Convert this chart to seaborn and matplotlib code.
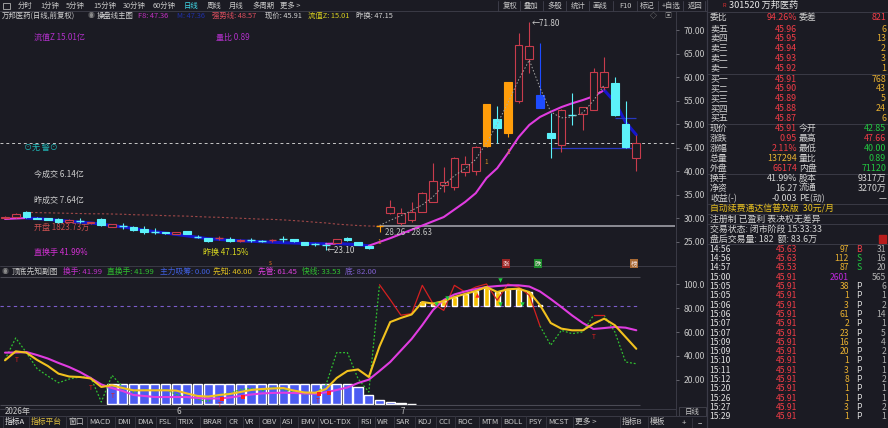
# -*- coding: utf-8 -*-

"""Redraw the 万邦医药 (301520) daily K-line screen with seaborn."""

import matplotlib

matplotlib.use('Agg')

import matplotlib.pyplot as plt
import numpy as np
import seaborn as sns
from matplotlib.patches import Rectangle

W, H = 888, 428
BG = '#1b1b23'
LINE = '#3a3a46'
TXT = '#d4d4d4'
RED = '#f03c46'
GREEN = '#22c840'
YELLOW = '#e8c020'
VOLY = '#e8b030'
PURPLE = '#c028e0'
BOOK = 6.4

# ---- main chart: daily candles, oldest first ----
opens = [30.1, 30.2, 31.3, 30.0, 30.0, 29.8, 29.1, 29.4, 28.9, 29.8,
         28.1, 28.3, 28.1, 27.7, 27.0, 27.0, 26.6, 27.2, 26.0, 25.7,
         25.65, 25.5, 25.1, 25.3, 25.1, 25.26, 25.5, 25.5, 24.9, 24.5,
         24.4, 24.7, 25.7, 24.9, 24.0, 28.26, 31.0, 28.9, 29.6, 31.3,
         33.4, 37.0, 36.6, 39.8, 40.0, 45.3, 51.1, 48.1, 54.9, 63.8,
         56.2, 48.1, 45.5, 51.9, 52.1, 53.0, 57.9, 58.7, 50.0, 42.85]
highs = [30.4, 31.0, 31.4, 30.2, 30.1, 29.9, 29.7, 29.9, 29.2, 29.9,
         28.8, 28.9, 28.2, 28.3, 27.8, 27.1, 27.1, 27.3, 26.4, 25.8,
         26.1, 25.9, 25.5, 25.7, 25.4, 25.6, 26.1, 25.6, 25.0, 24.7,
         24.6, 25.6, 26.0, 25.0, 24.1, 28.26, 33.8, 32.1, 33.4, 35.5,
         41.7, 40.9, 43.0, 43.2, 45.3, 54.3, 53.8, 58.9, 69.4, 71.8,
         67.2, 52.3, 53.1, 56.6, 53.7, 61.9, 64.3, 60.0, 54.9, 47.66]
lows = [30.0, 30.1, 30.1, 29.7, 29.5, 29.0, 29.0, 28.9, 28.8, 28.4,
        28.0, 27.6, 27.3, 26.7, 26.5, 26.7, 26.5, 26.5, 25.7, 25.0,
        25.3, 25.0, 25.0, 25.0, 24.9, 25.0, 25.0, 25.0, 24.2, 24.1,
        23.10, 24.6, 25.2, 24.2, 23.5, 27.0, 30.9, 28.6, 29.1, 31.2,
        33.3, 35.5, 35.9, 38.9, 39.1, 45.1, 46.0, 47.2, 54.5, 60.9,
        53.3, 42.8, 44.0, 49.8, 48.7, 52.9, 57.2, 51.8, 45.0, 40.00]
closes = [30.2, 30.9, 30.2, 29.8, 29.6, 29.1, 29.6, 29.36, 29.1, 28.5,
          28.7, 28.26, 27.4, 27.0, 26.96, 26.8, 27.0, 26.6, 25.96, 25.1,
          25.69, 25.1, 25.4, 25.26, 25.06, 25.3, 25.46, 25.1, 24.3, 24.46,
          24.36, 25.5, 25.3, 24.3, 23.6, 28.26, 32.3, 31.0, 31.3, 35.3,
          37.9, 37.7, 42.8, 41.5, 45.1, 54.3, 49.1, 58.9, 66.8, 66.6,
          53.4, 47.0, 53.0, 51.86, 53.6, 61.1, 61.1, 51.9, 45.1, 45.91]
ma_line = [29.8, 29.9, 30.0, 29.9, 29.7, 29.5, 29.3, 29.15, 28.95, 28.7,
           28.4, 28.1, 27.8, 27.4, 27.1, 26.8, 26.5, 26.2, 25.9, 25.6,
           25.45, 25.3, 25.15, 25.05, 24.95, 24.85, 24.75, 24.68, 24.6, 24.55,
           24.5, 24.55, 24.45, 24.3, 24.1, 24.9, 25.7, 26.6, 27.5, 28.4,
           29.3, 30.2, 31.8, 33.4, 35.3, 38.5, 40.6, 43.8, 47.2, 49.8,
           51.5, 52.6, 53.6, 54.4, 55.1, 55.9, 57.2, 54.7, 50.4, 47.7]
long_ma_start = 2
long_ma = [31.2, 31.15, 31.1, 31.05, 31.0, 30.95, 30.9, 30.9, 30.85, 30.8,
           30.7, 30.65, 30.6, 30.5, 30.45, 30.4, 30.3, 30.2, 30.15, 30.05,
           29.95, 29.85, 29.75, 29.7, 29.6, 29.45, 29.3, 29.1, 28.95, 28.7,
           28.55, 28.4, 28.3, 28.26]
zigzag_start = 35
zigzag = [28.4, 29.5, 30.5, 31.6, 32.8, 34.5, 37.0, 39.0, 40.5, 42.5,
          46.0, 50.0, 54.5, 59.4, 63.6, 57.7, 52.6, 51.3, 51.5, 52.4,
          55.0, 58.3]
support_level = 44.9
support_from = 51
resist_level = 51.3
resist_from = 57
one_marks_x = [35, 45, 47]
one_marks_y = [24.9, 41.9, 44.0]
price_ticks = [25, 30, 35, 40, 45, 50, 55, 60, 65, 70]

# ---- sub chart: 顶底先知副图 ----
xianzhi = [36.4, 43.9, 42.8, 36.7, 31.7, 25.3, 22.9, 22.5, 21.3, 14.2,
           15.6, 13.3, 11.4, 11.4, 11.4, 11.4, 11.2, 8.8, 6.7, 6.2,
           7.5, 8.3, 10.0, 11.7, 12.5, 12.9, 13.3, 11.2, 9.6, 9.4,
           12.5, 21.7, 27.5, 28.8, 22.5, 48.0, 68.3, 71.7, 74.6, 85.0,
           83.7, 85.8, 89.2, 91.7, 94.2, 97.5, 93.3, 95.6, 96.1, 93.3,
           82.5, 67.5, 62.8, 61.4, 61.4, 66.9, 71.1, 65.6, 55.8, 46.0]
xianguan = [42.8, 42.9, 43.3, 40.8, 37.9, 34.2, 30.8, 26.7, 21.7, 16.3,
            13.3, 10.8, 7.5, 6.7, 5.8, 5.8, 5.8, 5.8, 5.0, 4.6,
            4.6, 5.4, 6.7, 7.9, 8.8, 9.2, 9.4, 9.2, 8.8, 8.6,
            9.7, 11.7, 13.8, 17.5, 20.3, 27.5, 35.0, 44.6, 54.2, 65.8,
            78.3, 86.7, 91.3, 93.8, 95.8, 97.5, 98.3, 98.9, 98.9, 97.9,
            93.8, 87.5, 80.8, 73.8, 67.5, 62.5, 63.3, 64.2, 63.6, 61.45]
kuaixian = [37.0, 55.0, 42.8, 29.4, 23.3, 17.7, 20.8, 22.5, 22.5, 1.7,
            23.9, 14.2, 10.0, 12.0, 11.0, 12.0, 8.0, 6.0, 4.0, 2.0,
            8.0, 9.0, 12.0, 13.0, 11.0, 14.0, 12.0, 10.0, 8.0, 9.0,
            16.0, 42.8, 42.8, 21.0, 10.0, 99.4, 87.0, 74.0, 75.3, 98.9,
            83.6, 78.0, 98.9, 93.3, 97.5, 100.0, 86.4, 100.0, 97.5, 90.6,
            65.0, 49.0, 61.4, 58.6, 60.0, 74.0, 74.0, 60.0, 35.0, 33.53]
kuaixian_red_spans = [(35, 50), (55, 56)]
absorb_start = 10
absorb = [17.0, 17.0, 17.0, 17.0, 17.0, 17.0, 17.0, 17.0, 17.0, 17.0,
          17.0, 17.0, 17.0, 17.0, 17.0, 17.0, 17.0, 17.0, 17.0, 17.0,
          17.0, 17.0, 17.0, 14.0, 7.5, 3.3, 1.6, 0.8, 0.3]
floor_level = 82.0
top_level = 105.8
buy_sig_x = [40.3, 41.3, 46.3, 46.3, 48.3]
buy_sig_y = [83.0, 88.0, 103.0, 83.0, 83.0]
sell_sig_x = [20.3, 22.2, 29.3, 30.3]
sell_sig_y = [4.2, 5.8, 8.3, 9.2]
t_marks_x = [1.1, 8.0, 10.1, 20.1, 29.2, 55.0]
t_marks_y = [36.7, 13.3, 6.7, -0.8, 2.5, 55.8]
month_idx = [16, 37]
month_labels = ['6', '7']
sub_ticks = [20, 40, 60, 80, 100]
sub_tick_labels = ['20.00', '40.00', '60.00', '80.00', '100.0']

# ---- toolbars ----
period_tabs = ['分时', '1分钟', '5分钟', '15分钟', '30分钟', '60分钟', '日线', '周线', '月线', '多周期', '更多 >']
period_x = [18, 40, 66, 93, 123, 153, 184, 207, 229, 252, 280]
tool_btns = ['复权', '叠加', '多股', '统计', '画线', 'F10', '标记', '+自选', '返回']
tool_x = [510, 531, 555, 578, 600, 625, 647, 671, 695]
bottom_tabs = ['指标A', '指标平台', '窗口', 'MACD', 'DMI', 'DMA', 'FSL', 'TRIX', 'BRAR', 'CR',
               'VR', 'OBV', 'ASI', 'EMV', 'VOL-TDX', 'RSI', 'WR', 'SAR', 'KDJ', 'CCI',
               'ROC', 'MTM', 'BOLL', 'PSY', 'MCST', '更多 >', '指标B', '模板']
bottom_x = [5, 31, 68, 89, 117, 137, 158, 178, 202, 228, 245, 261, 282, 300, 320,
            360, 377, 396, 417, 438, 457, 481, 503, 528, 548, 575, 622, 650]

# ---- order book ----
sell_names = ['卖五', '卖四', '卖三', '卖二', '卖一']
sell_prices = ['45.96', '45.95', '45.94', '45.93', '45.92']
sell_vols = ['6', '13', '2', '3', '1']
buy_names = ['买一', '买二', '买三', '买四', '买五']
buy_prices = ['45.91', '45.90', '45.89', '45.88', '45.87']
buy_vols = ['768', '43', '5', '24', '6']
quote_left = ['现价', '涨跌', '涨幅', '总量', '外盘', '换手', '净资', '收益(-)']
quote_left_val = ['45.91', '0.95', '2.11%', '137294', '66174', '41.99%', '16.27', '-0.003']
quote_right = ['今开', '最高', '最低', '量比', '内盘', '股本', '流通', 'PE(动)']
quote_right_val = ['42.85', '47.66', '40.00', '0.89', '71120', '9317万', '3270万', '—']
tick_time = ['14:56', '14:56', '14:57', '15:00', '15:05', '15:05', '15:06', '15:06', '15:07', '15:07',
             '15:09', '15:09', '15:10', '15:11', '15:12', '15:20', '15:26', '15:27', '15:29']
tick_price = ['45.63', '45.63', '45.53', '45.91', '45.91', '45.91', '45.91', '45.91', '45.91', '45.91',
              '45.91', '45.91', '45.91', '45.91', '45.91', '45.91', '45.91', '45.91', '45.91']
tick_vol = ['97', '112', '87', '2601', '38', '1', '3', '61', '2', '23',
            '16', '20', '1', '3', '8', '1', '1', '3', '1']
tick_side = ['B', 'S', 'S', '', 'P', 'P', 'P', 'P', 'P', 'P',
             'P', 'P', 'P', 'P', 'P', 'P', 'P', 'P', 'P']
tick_num = ['31', '16', '20', '565', '6', '1', '2', '14', '1', '5',
            '4', '2', '1', '1', '2', '1', '1', '2', '1']


def box(x0, y0, x1, y1):
    """Pixel box (top-left origin) to a figure rectangle."""
    return [x0 / W, 1 - y1 / H, (x1 - x0) / W, (y1 - y0) / H]


def draw_candles(ax):
    for i, (o, h, l, c) in enumerate(zip(opens, highs, lows, closes)):
        prev = closes[i - 1] if i else o
        if c >= prev * 1.195:
            col, fill = '#ff9d0a', True
        elif c <= prev * 0.805:
            col, fill = '#1e4cff', True
        elif c >= o:
            col, fill = '#c83c4c', False
        else:
            col, fill = '#5cf2fa', True
        lo_b, hi_b = min(o, c), max(o, c)
        ax.vlines(i, l, lo_b, color=col, lw=0.8, zorder=3)
        ax.vlines(i, hi_b, h, color=col, lw=0.8, zorder=3)
        if abs(c - o) <= 0.05:
            ax.hlines(c, i - 0.36, i + 0.36, color=col, lw=1.0, zorder=3)
        else:
            ax.add_patch(Rectangle((i - 0.36, lo_b), 0.72, hi_b - lo_b,
                                   facecolor=col if fill else BG, edgecolor=col,
                                   lw=0.8, zorder=3))


def draw_main(fig):
    ax = fig.add_axes(box(0, 20, 676, 262))
    ax.set_facecolor('none')
    idx = np.arange(len(closes))
    ma = np.array(ma_line)

    # moving average: magenta while rising, deep blue while falling
    up = np.diff(ma) >= 0
    start = 0
    for k in range(1, len(up) + 1):
        if k == len(up) or up[k] != up[start]:
            seg = slice(start, k + 1)
            sns.lineplot(x=idx[seg], y=ma[seg], ax=ax, sort=False,
                         color='#e03ce0' if up[start] else '#1616cc',
                         linewidth=1.5 if up[start] else 2.2, zorder=2)
            start = k

    lx = np.arange(long_ma_start, long_ma_start + len(long_ma))
    ax.plot(lx, long_ma, color='#a04848', lw=0.8, ls=(0, (2, 2)), zorder=1)
    zx = np.arange(zigzag_start, zigzag_start + len(zigzag))
    ax.plot(zx, zigzag, color='#a8a8a8', lw=0.7, ls=(0, (1.5, 2)), zorder=4)

    draw_candles(ax)

    ax.axhline(closes[-1], color='#c8c8c8', lw=0.7, ls=(0, (3, 3)), zorder=1)
    ax.hlines(closes[35], 35, 62.6, color='#a0a0a8', lw=1.2, zorder=1)
    ax.hlines(support_level, support_from, len(closes) - 1, color='#2838c0', lw=0.9, zorder=2)
    ax.hlines(resist_level, resist_from, len(closes) - 1, color='#2838c0', lw=0.9, zorder=2)

    low_i = int(np.argmin(lows))
    high_i = int(np.argmax(highs))
    ax.text(low_i + 0.1, lows[low_i], f'←{lows[low_i]:.2f}', color='#d0d0d0',
            fontsize=5.8, ha='left', va='center')
    ax.text(high_i + 0.25, highs[high_i] - 0.5, f'←{highs[high_i]:.2f}', color='#d0d0d0',
            fontsize=5.8, ha='left', va='center')
    ax.text(35.5, closes[35] - 0.4, f'{closes[35]:.2f} - 28.63', color='#c0c0c0',
            fontsize=5.8, ha='left', va='top')
    for x, y in zip(one_marks_x, one_marks_y):
        ax.text(x, y, '1', color='#d09020', fontsize=4.6, ha='center', va='center')

    ax.set_xlim(-0.467, 62.71)
    ax.set_ylim(20.64, 72.13)
    ax.set_xlabel('')
    ax.set_ylabel('')
    ax.grid(False)
    for s in ax.spines.values():
        s.set_visible(False)
    ax.yaxis.tick_right()
    ax.set_yticks(price_ticks)
    ax.set_yticklabels([f'{v:.2f}' for v in price_ticks])
    ax.tick_params(axis='y', right=True, left=False, labelright=True, labelleft=False,
                   length=2.5, width=0.6, color='#70707a', labelcolor='#c8c8c8',
                   labelsize=6.2, pad=3, direction='out')
    ax.tick_params(axis='x', bottom=False, labelbottom=False)


def draw_sub(fig):
    sub = fig.add_axes(box(0, 276, 676, 406))
    sub.set_facecolor('none')
    idx = np.arange(len(xianzhi))
    yz = np.array(xianzhi)
    fast = np.array(kuaixian)

    ax_x = np.arange(absorb_start, absorb_start + len(absorb))
    sub.bar(ax_x, absorb, width=0.86, color='#4b5cf2', zorder=1)
    lift = np.clip(yz - floor_level, 0, None)
    hot = lift > 0
    sub.bar(idx[hot], lift[hot], bottom=floor_level, width=0.45, color='#f5c000', zorder=2)

    sub.hlines(floor_level, -0.5, 59.3, color='#7a5cc8', lw=0.8, ls=(0, (3, 3)), zorder=1)
    sub.hlines([top_level, -0.8], -0.5, 59.3, color='#4a4a54', lw=0.8, zorder=1)

    # fast line: green dotted, red solid inside the strong spans
    cuts = [0]
    for a, b in kuaixian_red_spans:
        cuts += [a, b]
    cuts.append(len(fast) - 1)
    for a, b in zip(cuts[0::2], cuts[1::2]):
        sub.plot(idx[a:b + 1], fast[a:b + 1], color='#30c030', lw=0.9, ls=(0, (1.5, 1.5)), zorder=3)
    for a, b in kuaixian_red_spans:
        sub.plot(idx[a:b + 1], fast[a:b + 1], color='#d42020', lw=0.9, zorder=3)

    sns.lineplot(x=idx, y=np.array(xianguan), ax=sub, color='#e03ce0', linewidth=1.5, zorder=4)
    sns.lineplot(x=idx, y=yz, ax=sub, color='#f2c21e', linewidth=1.5, zorder=5)

    sub.scatter(buy_sig_x, buy_sig_y, marker='v', s=10, color='#20d040', zorder=6, linewidths=0)
    sub.scatter(sell_sig_x, sell_sig_y, marker='s', s=9, color='#ff2020', zorder=6, linewidths=0)
    sub.scatter([44.1], [90.8], marker='^', s=10, color='#ff2020', zorder=6, linewidths=0)
    for x, y in zip(t_marks_x, t_marks_y):
        sub.text(x, y, 'T', color='#e02020', fontsize=4.6, ha='center', va='center', zorder=6)
    for i, lab in zip(month_idx, month_labels):
        sub.text(i, -0.046, lab, color='#c8c8c8', fontsize=5.8, ha='left', va='center',
                 transform=sub.get_xaxis_transform())
    sub.text(0, -0.046, '2026年', color='#c8c8c8', fontsize=5.8, ha='left', va='center',
             transform=sub.get_xaxis_transform())

    sub.set_xlim(-0.467, 62.71)
    sub.set_ylim(-1.667, 106.667)
    sub.set_xlabel('')
    sub.set_ylabel('')
    sub.grid(False)
    for s in sub.spines.values():
        s.set_visible(False)
    sub.yaxis.tick_right()
    sub.set_yticks(sub_ticks)
    sub.set_yticklabels(sub_tick_labels)
    sub.tick_params(axis='y', right=True, left=False, labelright=True, labelleft=False,
                    length=2.5, width=0.6, color='#70707a', labelcolor='#c8c8c8',
                    labelsize=6.2, pad=3, direction='out')
    sub.tick_params(axis='x', bottom=False, labelbottom=False)


def draw_frame(over):
    def put(x, y, s, color=TXT, size=5.6, ha='left', **kw):
        over.text(x, y, s, color=color, fontsize=size, ha=ha, va='center', **kw)

    def hl(y, x0, x1, color=LINE, lw=0.7):
        over.plot([x0, x1], [y, y], color=color, lw=lw)

    def vl(x, y0, y1, color=LINE, lw=0.7):
        over.plot([x, x], [y0, y1], color=color, lw=lw)

    # separators
    hl(11, 0, 707)
    hl(266, 0, 676)
    hl(409, 0, 676)
    hl(415.5, 0, 707)
    vl(676, 11, 415.5)
    vl(707, 0, 428, lw=0.9)

    # period toolbar
    over.add_patch(Rectangle((3, 2.5), 7, 6, fill=False, edgecolor='#b0b0b0', lw=0.6))
    for name, x in zip(period_tabs, period_x):
        put(x, 5.5, name, color='#40d8e8' if name == '日线' else '#c8c8c8', size=5.3)
    for name, x in zip(tool_btns, tool_x):
        put(x, 5.5, name, color='#c8c8c8', size=5.3, ha='center')
    for x in [498, 520, 543, 566, 589, 613, 637, 658, 683, 705]:
        vl(x, 1, 10.5, color='#3c3c48')

    # info line
    put(2, 15.5, '万邦医药(日线,前复权)', size=5.3)
    put(88, 15.5, '◉', color='#8a8a8a', size=5)
    put(97, 15.5, '操盘线主图', size=5.3)
    put(138, 15.5, 'F8: 47.36', color='#c030c0', size=5.3)
    put(177, 15.5, 'M: 47.36', color='#2030a8', size=5.3)
    put(212, 15.5, '强势线: 48.57', color='#e05060', size=5.3)
    put(265, 15.5, '现价: 45.91', size=5.3)
    put(308, 15.5, '流值Z: 15.01', color='#d8d020', size=5.3)
    put(356, 15.5, '昨换: 47.15', size=5.3)
    put(650, 15.5, '◇', color='#9a9a9a', size=5)
    put(664, 15.5, '▣', color='#9a9a9a', size=5)

    # main-chart notes
    put(34, 37, '流值Z 15.01亿', color='#b030c8', size=5.8)
    put(216, 37, '量比 0.89', color='#b030c8', size=5.8)
    put(24, 147, '⊙无 警⊙', color='#20b4b4', size=5.8)
    put(34, 174, '今成交 6.14亿', color='#d0d0d0', size=5.8)
    put(34, 200, '昨成交 7.64亿', color='#d0d0d0', size=5.8)
    put(34, 227, '开盘 1823.73万', color='#c85050', size=5.8)
    put(34, 252.5, '直换手 41.99%', color='#d030d0', size=5.8)
    put(203, 252.5, '昨换 47.15%', color='#d8d820', size=5.8)
    put(270, 263, 's', color='#e07020', size=4.6, ha='center')
    for x, s, bg in [(506, '涨', '#9a2424'), (538, '跌', '#1c8a2c'), (634, '榜', '#a86a34')]:
        over.text(x, 263.5, s, color='#f0e0e0', fontsize=4.6, ha='center', va='center',
                  bbox=dict(boxstyle='square,pad=0.12', fc=bg, ec='none'))

    # sub-chart title line
    put(2, 272, '◉', color='#8a8a8a', size=5)
    put(12, 272, '顶底先知副图', color='#c8c8c8', size=5.6)
    put(63, 272, '换手: 41.99', color='#c030c8', size=5.6)
    put(107, 272, '直换手: 41.99', color='#30c030', size=5.6)
    put(160, 272, '主力吸筹: 0.00', color='#4060e0', size=5.6)
    put(213, 272, '先知: 46.00', color='#e0c020', size=5.6)
    put(258, 272, '先管: 61.45', color='#e040e0', size=5.6)
    put(302, 272, '快线: 33.53', color='#30c030', size=5.6)
    put(345, 272, '底: 82.00', color='#8060d0', size=5.6)

    # bottom indicator tabs
    for name, x in zip(bottom_tabs, bottom_x):
        col = '#e0c040' if name == '指标平台' else ('#e8e8e8' if name == '指标A' else '#c8c8c8')
        put(x, 422, name, color=col, size=5.6)
        vl(x - 2.5, 416, 428, color='#34343e')
    over.add_patch(Rectangle((679, 407), 27, 9, fill=False, edgecolor='#44444e', lw=0.6))
    put(692.5, 412, '日线', color='#c8c8c8', size=5.4, ha='center')
    put(684, 423.5, '+', color='#c8c8c8', size=5.6, ha='center')
    put(700, 423.5, '−', color='#c8c8c8', size=5.6, ha='center')
    vl(692, 418, 428, color='#34343e')

    # order book header
    put(722, 5.5, 'R', color='#e03030', size=4)
    put(729, 5.5, '301520 万邦医药', color='#e8e8e8', size=6.6)
    for y in [11.5, 73.5, 123.5, 173.5, 203.5, 214, 224, 244]:
        hl(y, 708, 888)
    put(710, 17.5, '委比', size=BOOK)
    put(797, 17.5, '94.26%', color=RED, size=BOOK, ha='right')
    put(799, 17.5, '委差', size=BOOK)
    put(886, 17.5, '821', color=RED, size=BOOK, ha='right')
    for k, (n, p, v) in enumerate(zip(sell_names, sell_prices, sell_vols)):
        y = 29 + 9.8 * k
        put(710, y, n, size=BOOK)
        put(797, y, p, color=RED, size=BOOK, ha='right')
        put(886, y, v, color=VOLY, size=BOOK, ha='right')
    for k, (n, p, v) in enumerate(zip(buy_names, buy_prices, buy_vols)):
        y = 79 + 9.8 * k
        put(710, y, n, size=BOOK)
        put(797, y, p, color=RED, size=BOOK, ha='right')
        put(886, y, v, color=VOLY, size=BOOK, ha='right')

    left_cols = [RED, RED, RED, VOLY, RED, TXT, TXT, TXT]
    right_cols = [GREEN, RED, GREEN, GREEN, GREEN, TXT, TXT, TXT]
    for k in range(len(quote_left)):
        y = 128.5 + 10 * k
        put(710, y, quote_left[k], size=BOOK)
        put(797, y, quote_left_val[k], color=left_cols[k], size=BOOK, ha='right')
        put(799, y, quote_right[k], size=BOOK)
        put(886, y, quote_right_val[k], color=right_cols[k], size=BOOK, ha='right')

    put(710, 209, '自动续费通达信普及版  30元/月', color=YELLOW, size=BOOK)
    put(710, 219, '注册制 已盈利 表决权无差异', size=BOOK)
    put(710, 229, '交易状态: 闭市阶段 15:33:33', size=BOOK)
    put(710, 239, '盘后交易量: 182  额: 83.6万', size=BOOK)
    over.add_patch(Rectangle((879, 235), 7, 8, color='#b81c1c'))

    side_cols = {'B': RED, 'S': GREEN, 'P': '#e0e0e0', '': TXT}
    for k in range(len(tick_time)):
        y = 249.3 + 9.3 * k
        put(709, y, tick_time[k], color='#e0e0e0', size=6.2)
        put(797, y, tick_price[k], color=RED, size=6.2, ha='right')
        put(849, y, tick_vol[k], color=PURPLE if tick_side[k] == '' else VOLY, size=6.2, ha='right')
        put(859, y, tick_side[k], color=side_cols[tick_side[k]], size=6.2, ha='center')
        put(886, y, tick_num[k], color='#b0b0b0', size=6.2, ha='right')


def _main():
    sns.set_theme(style='dark', rc={'axes.facecolor': BG, 'figure.facecolor': BG,
                                    'savefig.facecolor': BG})
    plt.rcParams['font.family'] = ['Noto Sans CJK SC', 'DejaVu Sans']
    plt.rcParams['axes.unicode_minus'] = False

    fig = plt.figure(figsize=(W / 100, H / 100), dpi=100)
    over = fig.add_axes([0, 0, 1, 1])
    over.set_xlim(0, W)
    over.set_ylim(H, 0)
    over.axis('off')

    draw_frame(over)
    draw_main(fig)
    draw_sub(fig)

    fig.savefig('out.png', dpi=100, facecolor=BG)
    plt.close(fig)


if __name__ == '__main__':
    _main()
